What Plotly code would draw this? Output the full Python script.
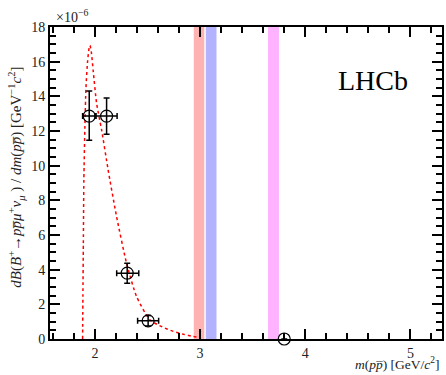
import plotly.graph_objects as go

# data points (units of 1e-6)
x_pts = [1.946, 2.111, 2.307, 2.506, 3.80]
y_pts = [12.86, 12.86, 3.80, 1.05, 0.0]
y_err_up = [1.45, 1.05, 0.57, 0.30, 0.0]
y_err_dn = [1.40, 1.05, 0.58, 0.30, 0.0]
x_err_lo = [0.063, 0.10, 0.10, 0.10, 0.0]
x_err_hi = [0.055, 0.10, 0.11, 0.10, 0.0]

# model curve
curve_x = [1.883, 1.886, 1.890, 1.895, 1.905, 1.915, 1.930, 1.945, 1.953, 1.965, 1.985,
           2.016, 2.064, 2.126, 2.206, 2.301, 2.396, 2.522, 2.640, 2.744, 2.850, 2.934, 3.000]
curve_y = [0.0, 2.5, 5.5, 9.2, 12.3, 14.5, 16.0, 16.8, 16.94, 16.6, 15.4,
           13.6, 12.05, 9.75, 7.06, 4.37, 2.45, 1.11, 0.70, 0.44, 0.26, 0.15, 0.08]

# vetoed regions
bands_lo = [2.94, 3.054, 3.646]
bands_hi = [3.04, 3.156, 3.75]
band_colors = ["rgba(255,0,0,0.3)", "rgba(0,0,255,0.3)", "rgba(255,0,255,0.3)"]

x_range = [1.573, 5.30]
y_range = [0, 18]

font = "Liberation Serif, Times New Roman, serif"

fig = go.Figure()
fig.add_trace(go.Scatter(x=curve_x, y=curve_y, mode="lines",
                         line=dict(color="red", dash="dot", width=1.5, shape="spline", smoothing=0.6),
                         hoverinfo="skip"))
fig.add_trace(go.Scatter(
    x=x_pts, y=y_pts, mode="markers",
    marker=dict(symbol="circle-open", size=12, color="black", line=dict(width=1.2, color="black")),
    error_y=dict(type="data", symmetric=False, array=y_err_up, arrayminus=y_err_dn,
                 color="black", thickness=1.5, width=3),
    error_x=dict(type="data", symmetric=False, array=x_err_hi, arrayminus=x_err_lo,
                 color="black", thickness=1.5, width=3),
    cliponaxis=False))

shapes = []
for lo, hi, c in zip(bands_lo, bands_hi, band_colors):
    shapes.append(dict(type="rect", xref="x", yref="paper", x0=lo, x1=hi, y0=0, y1=1,
                       fillcolor=c, line=dict(width=0), layer="below"))

axis_common = dict(showline=True, linecolor="black", linewidth=2, mirror="allticks",
                   ticks="inside", ticklen=10, tickwidth=2, tickcolor="black",
                   showgrid=False, zeroline=False, layer="above traces",
                   tickfont=dict(family=font, size=14, color="#222"))

fig.update_layout(
    width=446, height=375,
    margin=dict(l=50, r=2, t=27, b=36),
    paper_bgcolor="white", plot_bgcolor="white",
    showlegend=False,
    shapes=shapes,
    xaxis=dict(range=x_range, tick0=0, dtick=1,
               minor=dict(ticks="inside", ticklen=6, tickwidth=1.5, tickcolor="black", dtick=0.2, tick0=0),
               **axis_common),
    yaxis=dict(range=y_range, tick0=0, dtick=2,
               minor=dict(ticks="inside", ticklen=6, tickwidth=1.5, tickcolor="black", dtick=0.5, tick0=0),
               **axis_common),
    annotations=[
        dict(text="×10<sup>−6</sup>", xref="paper", yref="paper", x=0.01, y=1.0,
             xanchor="left", yanchor="bottom", showarrow=False,
             font=dict(family=font, size=14, color="#222")),
        dict(text="LHCb", xref="paper", yref="paper", x=0.825, y=0.83,
             xanchor="center", yanchor="middle", showarrow=False,
             font=dict(family=font, size=28, color="black")),
        dict(text="<i>m</i>(<i>p</i><i>p̅</i>) [GeV/<i>c</i><sup>2</sup>]",
             xref="paper", yref="paper", x=1.0, y=-0.112,
             xanchor="right", yanchor="bottom", showarrow=False,
             font=dict(family=font, size=13.5, color="#222")),
        dict(text="<i>dB</i>(<i>B</i><sup>+</sup>→<i>p</i><i>p̅</i><i>μ</i><sup>+</sup><i>ν<sub>μ</sub></i> ) / <i>dm</i>(<i>pp̅</i>) [GeV<sup>−1</sup><i>c</i><sup>2</sup>]",
             xref="paper", yref="paper", x=-0.087, y=0.52, textangle=-90,
             xanchor="center", yanchor="middle", showarrow=False,
             font=dict(family=font, size=15, color="#222")),
    ],
)

fig.write_html("out.html", post_script="document.body.style.margin='0';",
               config={"displayModeBar": False})
